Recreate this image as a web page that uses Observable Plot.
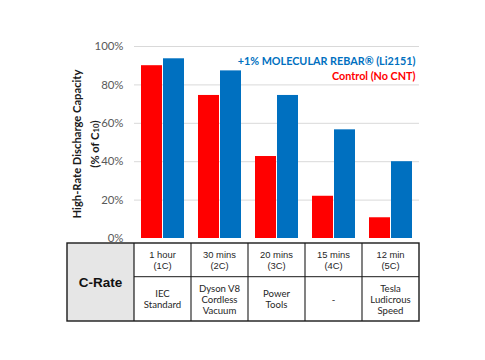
<!DOCTYPE html>
<html><head><meta charset="utf-8">
<script src="https://cdn.jsdelivr.net/npm/d3@7"></script>
<script src="https://cdn.jsdelivr.net/npm/@observablehq/plot@0.6"></script>
<style>html,body{margin:0;padding:0;background:#fff}svg{display:block}</style>
</head><body><div id="chart"></div>
<script>
// ---- data ----
const categories = ["1C", "2C", "3C", "4C", "5C"];
const rateLabels = [["1 hour", "(1C)"], ["30 mins", "(2C)"], ["20 mins", "(3C)"], ["15 mins", "(4C)"], ["12 min", "(5C)"]];
const applications = [["IEC", "Standard"], ["Dyson V8", "Cordless", "Vacuum"], ["Power", "Tools"], ["-"], ["Tesla", "Ludicrous", "Speed"]];
const series = ["Control (No CNT)", "+1% MOLECULAR REBAR® (Li2151)"];
const controlValues = [0.90, 0.745, 0.427, 0.22, 0.108];
const rebarValues = [0.936, 0.873, 0.745, 0.566, 0.40];
const yTicks = [0, 0.2, 0.4, 0.6, 0.8, 1.0];
const tableHeader = "C-Rate";
const yLabelLine1 = "High-Rate Discharge Capacity";
const yLabelLine2 = ["(% of C", "10", ")"];
const colors = ["#FF0000", "#0070C0"];

const rows = [];
categories.forEach((c, i) => {
  rows.push({cat: c, series: series[0], value: controlValues[i]});
  rows.push({cat: c, series: series[1], value: rebarValues[i]});
});

const NS = "http://www.w3.org/2000/svg";
function el(tag, attrs, text) {
  const e = document.createElementNS(NS, tag);
  for (const k in attrs) e.setAttribute(k, attrs[k]);
  if (text != null) e.textContent = text;
  return e;
}

function tableRender(index, scales, values, dims) {
  const g = el("g", {});
  const fx = scales.fx;
  const left0 = dims.marginLeft;
  const right0 = dims.width - dims.marginRight;
  const step = fx && fx(categories[1]) != null ? fx(categories[1]) - fx(categories[0]) : (right0 - left0) / categories.length;
  const colX = (i) => (fx && fx(categories[i]) != null ? fx(categories[i]) : left0 + i * step);
  const top = dims.height - dims.marginBottom + 5;
  const mid = top + 33.7;
  const bottom = top + 78;
  const hdrLeft = left0 - 67;
  const tableRight = colX(categories.length - 1) + step;
  // header cell
  g.appendChild(el("rect", {x: hdrLeft, y: top, width: left0 - hdrLeft, height: bottom - top, fill: "#e6e6e6"}));
  g.appendChild(el("text", {x: (hdrLeft + left0) / 2, y: (top + bottom) / 2 + 0.5, "text-anchor": "middle", "dominant-baseline": "central",
    "font-family": "Liberation Sans, Arial, sans-serif", "font-size": 13.5, "font-weight": "bold", fill: "#111"}, tableHeader));
  const tf1 = {"font-family": "Liberation Sans, Arial, sans-serif", "font-size": 9.4, fill: "#262626", "text-anchor": "middle", "dominant-baseline": "central"};
  const tf2 = {"font-family": "Lato, sans-serif", "font-size": 9.6, fill: "#262626", "text-anchor": "middle", "dominant-baseline": "central"};
  categories.forEach((c, i) => {
    const cx = colX(i) + step / 2;
    const r1 = rateLabels[i];
    r1.forEach((t, j) => g.appendChild(el("text", Object.assign({x: cx, y: (top + mid) / 2 + (j - (r1.length - 1) / 2) * 11.5}, tf1), t)));
    const r2 = applications[i];
    r2.forEach((t, j) => g.appendChild(el("text", Object.assign({x: cx, y: (mid + bottom) / 2 + 0.5 + (j - (r2.length - 1) / 2) * 11}, tf2), t)));
  });
  // grid lines
  const ln = (x1, y1, x2, y2, w) => g.appendChild(el("line", {x1, y1, x2, y2, stroke: "#1a1a1a", "stroke-width": w}));
  ln(left0, mid, tableRight, mid, 1);
  for (let i = 1; i < categories.length; i++) ln(colX(i), top, colX(i), bottom, 1.1);
  ln(left0, top, left0, bottom, 1.2);
  g.appendChild(el("rect", {x: hdrLeft, y: top, width: tableRight - hdrLeft, height: bottom - top, fill: "none", stroke: "#1a1a1a", "stroke-width": 1.4}));
  // y label
  const cy = (dims.marginTop + dims.height - dims.marginBottom) / 2 + 2;
  const lf = {"font-family": "Lato, sans-serif", "font-size": 11.2, "font-weight": "bold", fill: "#1a1a1a", "text-anchor": "middle", "dominant-baseline": "central"};
  g.appendChild(el("text", Object.assign({transform: `translate(${hdrLeft + 9},${cy}) rotate(-90)`}, lf), yLabelLine1));
  const t2 = el("text", Object.assign({transform: `translate(${hdrLeft + 26.5},${cy}) rotate(-90)`}, lf));
  t2.appendChild(el("tspan", {}, yLabelLine2[0]));
  t2.appendChild(el("tspan", {"font-size": 7.8, dy: 2.5}, yLabelLine2[1]));
  t2.appendChild(el("tspan", {dy: -2.5}, yLabelLine2[2]));
  g.appendChild(t2);
  return g;
}

try {
  const plot = Plot.plot({
    width: 485,
    height: 360,
    marginLeft: 133,
    marginRight: 65,
    marginTop: 46,
    marginBottom: 122,
    style: {fontFamily: "Lato, sans-serif", background: "#fff", overflow: "visible"},
    fx: {domain: categories, padding: 0, axis: null, label: null},
    x: {domain: series, paddingInner: 0.045, paddingOuter: 0.27, axis: null},
    y: {domain: [0, 1], axis: null},
    color: {domain: series, range: colors},
    marks: [
      Plot.gridY(yTicks.slice(1), {stroke: "#d9d9d9", strokeOpacity: 1, strokeWidth: 1}),
      Plot.axisY(yTicks, {tickSize: 0, tickPadding: 11, tickFormat: d => Math.round(d * 100) + "%", fontSize: 11.4, fill: "#595959", label: null}),
      Plot.barY(rows, {fx: "cat", x: "series", y: "value", fill: "series"}),
      Plot.text([series[1]], {fx: () => categories[categories.length - 1], frameAnchor: "top-right", dx: -4, dy: 10.7, text: d => d, fill: colors[1], fontWeight: "bold", fontSize: 10.8, textAnchor: "end"}),
      Plot.text([series[0]], {fx: () => categories[categories.length - 1], frameAnchor: "top-right", dx: -4, dy: 25.7, text: d => d, fill: colors[0], fontWeight: "bold", fontSize: 10.8, textAnchor: "end"}),
      Plot.frame({facet: "super", stroke: "none", render: tableRender})
    ]
  });
  document.getElementById("chart").appendChild(plot);
} catch (e) {
  document.body.appendChild(document.createTextNode("ERR: " + e.message));
}
</script>
</body></html>
